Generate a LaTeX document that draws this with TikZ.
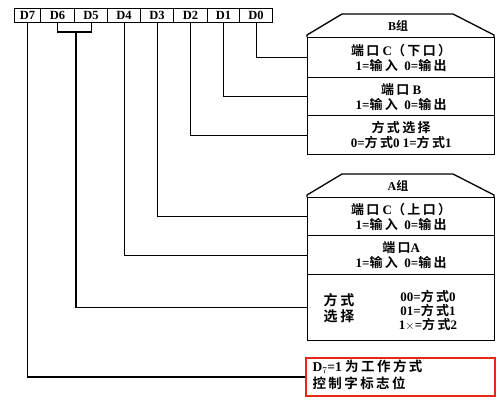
\documentclass[tikz,border=0pt]{standalone}
\usepackage{fontspec}
\setmainfont{Liberation Serif}
\newfontfamily\zh{Noto Sans CJK SC}[BoldFont={Noto Sans CJK SC Bold},LetterSpace=18]
\newcommand{\zb}[1]{{\zh\bfseries #1}}
\definecolor{redbox}{RGB}{232,40,20}
\begin{document}
\begin{tikzpicture}[x=1pt,y=-1pt,
  bit/.style={draw,line width=1.2pt,minimum height=14pt,inner sep=0pt,anchor=north west,font=\bfseries\fontsize{12.5}{13}\selectfont},
  rowbox/.style={draw,line width=1.3pt,minimum width=187pt,inner sep=0pt,anchor=north west,align=center,font=\bfseries\fontsize{13}{15}\selectfont},
  hdr/.style={draw,line width=1.3pt},
  conn/.style={line width=1.1pt}]
\useasboundingbox (0,0) rectangle (500,400);
% bit boxes
\node[bit,minimum width=26pt] (d7) at (14,8) {D7};
\node[bit,minimum width=34pt] (d6) at (40,8) {D6};
\node[bit,minimum width=33pt] (d5) at (74,8) {D5};
\node[bit,minimum width=33pt] (d4) at (107,8) {D4};
\node[bit,minimum width=33pt] (d3) at (140,8) {D3};
\node[bit,minimum width=34pt] (d2) at (173,8) {D2};
\node[bit,minimum width=32pt] (d1) at (207,8) {D1};
\node[bit,minimum width=33pt] (d0) at (239,8) {D0};
% B group
\draw[hdr] (307,37) -- (307,35) -- (342,14) -- (453,14) -- (494,35) -- (494,37);
\node[font=\bfseries\fontsize{12}{13}\selectfont] (bh) at (398,26) {B\zb{组}};
\node[rowbox,minimum height=40pt] (b1) at (307,37) {\zb{端口} C\zb{（下口）}\\1=\zb{输入}\ \ 0=\zb{输出}};
\node[rowbox,minimum height=38pt] (b2) at (307,77) {\zb{端口} B\\1=\zb{输入}\ \ 0=\zb{输出}};
\node[rowbox,minimum height=39pt] (b3) at (307,115) {\zb{方式选择}\\0=\zb{方式}0 1=\zb{方式}1};
% A group
\draw[hdr] (307,197) -- (307,195) -- (342,174) -- (453,174) -- (494,195) -- (494,197);
\node[font=\bfseries\fontsize{12}{13}\selectfont] (ah) at (398,186) {A\zb{组}};
\node[rowbox,minimum height=38pt] (a1) at (307,197) {\zb{端口} C\zb{（上口）}\\1=\zb{输入}\ \ 0=\zb{输出}};
\node[rowbox,minimum height=39pt] (a2) at (307,235) {\zb{端口}A\\1=\zb{输入}\ \ 0=\zb{输出}};
\node[rowbox,minimum height=66pt] (a3) at (307,274) {};
\node[align=center,font=\bfseries\fontsize{14}{16}\selectfont] (a3l) at (339,308) {\zb{方式}\\\zb{选择}};
\node[align=center,font=\bfseries\fontsize{13}{14}\selectfont] (a3r) at (428,310) {00=\zb{方式}0\\01=\zb{方式}1\\1$\times$=\zb{方式}2};
% red box
\node[draw=redbox,line width=2pt,minimum width=189pt,minimum height=38pt,anchor=north west,inner sep=0pt] (flag) at (305,357) {};
\node[anchor=west,align=left,font=\bfseries\fontsize{13.5}{17}\selectfont] (flagt) at (309,375) {D$_7$=1 \zb{为工作方式}\\\zb{控制字标志位}};
% connectors
\draw[conn] (d0.south) |- (b1.west);
\draw[conn] (d1.south) |- (b2.west);
\draw[conn] (d2.south) |- (b3.west);
\draw[conn] (d3.south) |- (a1.west);
\draw[conn] (d4.south) |- (a2.west);
\coordinate (br) at (76,32);
\draw[conn] (d6.south) -- (d6.south|-br) -- (d5.south|-br) -- (d5.south);
\draw[conn] (br) |- (a3.west);
\draw[conn] (d7.south) |- (flag.west);
\end{tikzpicture}
\end{document}
